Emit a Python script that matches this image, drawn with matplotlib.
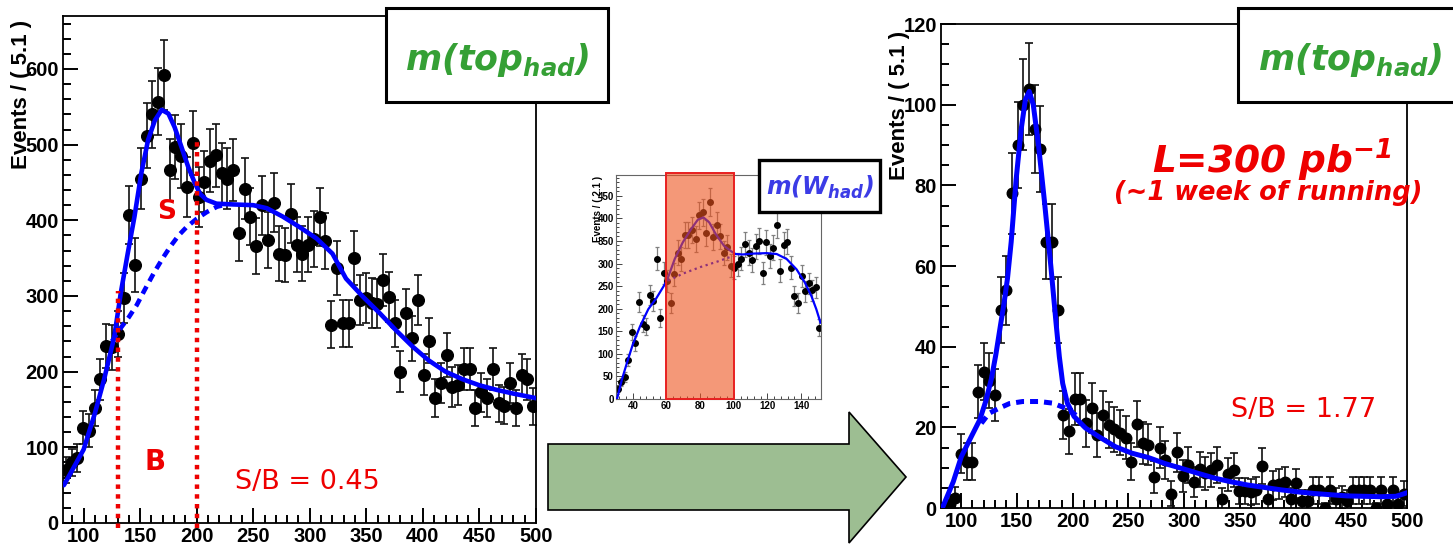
"""Top-quark mass peak before/after W-mass window cut, with the W-mass inset."""

import numpy as np
import matplotlib
matplotlib.use("Agg")
import matplotlib.pyplot as plt
from matplotlib.patches import Rectangle, Polygon
from matplotlib.ticker import MultipleLocator, AutoMinorLocator

plt.rcParams["font.family"] = "Liberation Sans"
plt.rcParams["font.weight"] = "bold"
plt.rcParams["mathtext.fontset"] = "custom"
plt.rcParams["mathtext.rm"] = "DejaVu Sans:italic:bold"
plt.rcParams["mathtext.it"] = "DejaVu Sans:italic:bold"

W, H = 1453, 548

# ------------------------------------------------------------------
# Data
# ------------------------------------------------------------------
# top mass histograms: 82 bins of 5.1 starting at 81.8
TOP_LO, TOP_BW = 81.8, 5.1
top_all = [70, 80, 86, 126, 122, 152, 190, 234, 232, 250, 297, 407, 341, 455,
           512, 540, 557, 592, 467, 497, 485, 444, 502, 431, 451, 479, 486, 462,
           455, 466, 383, 442, 405, 366, 420, 374, 423, 356, 354, 409, 368, 356,
           368, 375, 404, 373, 262, 337, 264, 264, 350, 295, 297, 291, 290, 321,
           299, 264, 200, 277, 244, 295, 196, 241, 165, 185, 222, 180, 182, 204,
           204, 152, 173, 165, 204, 158, 155, 185, 152, 196, 190, 154]
top_cut = [0, 1, 2.5, 13.5, 11.5, 11.5, 28.8, 33.8, 31.5, 28, 49, 54, 78, 90,
           100, 104, 94, 89, 66, 66, 49, 23, 19, 27, 27, 21, 24.7, 18, 23, 20.5,
           19.5, 18.7, 17.4, 11.5, 20.8, 16, 15.7, 7.7, 14.9, 11.9, 3.5, 13.8,
           7.9, 10.7, 6.5, 9.6, 8.6, 9.4, 10.7, 2.3, 8.4, 9.4, 4.2, 4.2, 3.9, 4.4,
           10.5, 2.3, 5.6, 6.0, 6.5, 2.3, 6.1, 1.8, 1.8, 4.4, 4.4, 0, 4.4, 2.3,
           2.7, 1.8, 4.4, 4.4, 4.4, 4.4, 0, 4.4, 1.0, 4.4, 1.0, 3.5]

# W mass histogram (inset): 58 bins of 2.1 starting at 30
W_LO, W_BW = 30.0, 2.1
w_counts = [22, 38, 49, 86, 148, 123, 215, 167, 160, 230, 217, 311, 180, 279,
            262, 212, 276, 324, 310, 363, 363, 375, 354, 407, 413, 367, 436, 359,
            385, 360, 323, 336, 295, 291, 298, 311, 343, 324, 308, 338, 350, 279,
            347, 317, 335, 385, 284, 342, 348, 291, 228, 212, 273, 239, 256, 241,
            247, 158]

# fitted curves (signal+background solid, background dashed)
all_fit_x = [82.6, 90, 100, 110, 118, 127, 133, 139, 145, 151, 157, 163, 169,
             175, 180.5, 186.5, 192.4, 198.4, 203, 208.7, 217.5, 232, 250, 262,
             276, 291, 306, 320, 332, 347, 362, 376, 391, 405, 420, 435, 450,
             465, 480, 500]
all_fit_y = [50, 70, 97, 145, 189, 245, 305, 356, 405, 462, 506, 532, 546, 541,
             523, 497, 471, 449, 435, 427, 422, 421, 420, 416, 405, 391, 376,
             356, 323, 299, 277, 255, 233, 215, 200, 190, 182, 176, 171, 165]
all_bkg_x = [125, 132, 140, 147, 154, 162, 170, 177, 184, 191, 200, 209, 218, 226]
all_bkg_y = [240, 256, 272, 288, 308, 330, 350, 366, 380, 391, 402, 411, 418, 421]

cut_fit_x = [83, 92.8, 100, 109, 116.5, 122, 127, 131, 135, 138.5, 141.5, 144.8,
             149.2, 153.7, 157.5, 161, 164.6, 169.4, 174.5, 180.4, 185, 188, 191,
             195.2, 201.2, 211.6, 223.4, 238.3, 253, 268, 283, 298, 312.5, 327.4,
             342, 357, 372, 387, 402, 416.5, 431, 446, 461, 476, 490, 497, 500]
cut_fit_y = [0, 6.5, 12.7, 17.7, 21.8, 26.5, 32, 38, 45, 51, 57, 66, 81.4, 93.8,
             101.2, 103.3, 100, 89.7, 76.4, 59.9, 46, 37.5, 30.9, 26, 22.7, 19.8,
             17.7, 15.2, 13.6, 12.5, 11, 9.8, 8.6, 7.4, 6.5, 5.7, 5.1, 4.5, 4.0,
             3.6, 3.3, 3.0, 2.9, 2.8, 2.9, 3.5, 3.8]
cut_bkg_x = [118, 125, 134.4, 143.3, 155, 170, 182, 194, 203]
cut_bkg_y = [21, 23.5, 24.8, 25.9, 26.4, 26.4, 26, 24.7, 23]

w_fit_x = [30.6, 33.5, 36.5, 40, 44.3, 49.2, 54.1, 59, 61, 64.9, 69.7, 74.6,
           78.6, 82, 85.4, 89.3, 94.2, 98.1, 101, 105, 111.8, 119.6, 125.5,
           131.4, 137.3, 142.2, 146.1, 149, 151.5]
w_fit_y = [0, 43, 80, 121, 161, 199, 224, 254, 270, 310, 347, 376, 397, 402,
           391, 365, 339, 328, 321, 320, 322, 323, 321, 310, 287, 258, 228, 199,
           169]
w_bkg_x = [61, 70, 80, 90, 99]
w_bkg_y = [262, 278, 292, 304, 316]

window_cuts = [130, 200]      # red dotted mass window (left plot)
w_window = (60, 100)          # shaded W mass window (inset)


def fx(px):
    return px / W


def fy(py):
    return 1 - py / H


def fig_box(x0, y0, x1, y1):
    return [x0 / W, 1 - y1 / H, (x1 - x0) / W, (y1 - y0) / H]


def style_main(ax, ymaj, yminor_div):
    for s in ax.spines.values():
        s.set_linewidth(1.3)
    ax.xaxis.set_major_locator(MultipleLocator(50))
    ax.xaxis.set_minor_locator(AutoMinorLocator(5))
    ax.yaxis.set_major_locator(MultipleLocator(ymaj))
    ax.yaxis.set_minor_locator(AutoMinorLocator(yminor_div))
    ax.tick_params(which="both", direction="in", top=False, right=False,
                   width=1.4, labelsize=14.5, pad=3)
    ax.tick_params(which="major", length=11)
    ax.tick_params(which="minor", length=6)


def add_box(x0, y0, x1, y1, lw=2.2):
    fig.add_artist(Rectangle((fx(x0), fy(y1)), (x1 - x0) / W, (y1 - y0) / H,
                             transform=fig.transFigure, facecolor="white",
                             edgecolor="black", lw=lw, zorder=5))


fig = plt.figure(figsize=(W / 100, H / 100), dpi=100)

# ------------------------------------------------------------------
# Left: before the W window cut
# ------------------------------------------------------------------
ax1 = fig.add_axes(fig_box(63, 16, 536, 523))
x_top = TOP_LO + TOP_BW * (np.arange(len(top_all)) + 0.5)
y1 = np.array(top_all, dtype=float)
ax1.errorbar(x_top, y1, yerr=1.8 * np.sqrt(y1) + 2, fmt="o", ms=8.4,
             color="black", ecolor="#111111", elinewidth=1.2, capsize=3,
             capthick=1.2, zorder=2)
ax1.plot(all_fit_x, all_fit_y, color="blue", lw=3.3, zorder=3,
         solid_capstyle="round")
ax1.plot(all_bkg_x, all_bkg_y, color="blue", lw=3.3, ls=(0, (1.8, 1.3)),
         zorder=3)
ax1.vlines(window_cuts[0], -6, 307, color="#EE0000", lw=3.2,
           ls=(0, (1.0, 1.2)), zorder=4, clip_on=False)
ax1.vlines(window_cuts[1], -6, 508, color="#EE0000", lw=3.2,
           ls=(0, (1.0, 1.2)), zorder=4, clip_on=False)
ax1.text(173, 411, "S", color="#EE0000", fontsize=19, family="DejaVu Sans",
         weight="bold", ha="center", va="center")
ax1.text(163, 80, "B", color="#EE0000", fontsize=20, family="DejaVu Sans",
         weight="bold", ha="center", va="center")
ax1.text(298, 54, "S/B = 0.45", color="#EE0000", fontsize=19.5,
         family="DejaVu Sans", weight="normal", ha="center", va="center")
ax1.set_xlim(TOP_LO, 500)
ax1.set_ylim(0, 670)
style_main(ax1, 100, 5)
fig.text(fx(22), fy(94), "Events / ( 5.1 )", rotation=90, fontsize=16,
         ha="center", va="center")

# ------------------------------------------------------------------
# Right: after the W window cut
# ------------------------------------------------------------------
ax2 = fig.add_axes(fig_box(941, 24, 1407, 508))
y2 = np.array(top_cut, dtype=float)
ax2.errorbar(x_top, y2, yerr=np.sqrt(y2) + 1.2, fmt="o", ms=7.6,
             color="black", ecolor="#111111", elinewidth=1.2, capsize=3,
             capthick=1.2, zorder=2)
ax2.plot(cut_fit_x, cut_fit_y, color="blue", lw=3.6, zorder=3,
         solid_capstyle="round")
ax2.plot(cut_bkg_x, cut_bkg_y, color="blue", lw=3.6, ls=(0, (1.6, 1.2)),
         zorder=3)
ax2.text(407.6, 24.3, "S/B = 1.77", color="#EE0000", fontsize=19.5,
         family="DejaVu Sans", weight="normal", ha="center", va="center")
ax2.set_xlim(TOP_LO, 500)
ax2.set_ylim(0, 120)
style_main(ax2, 20, 4)
fig.text(fx(900), fy(105), "Events / ( 5.1 )", rotation=90, fontsize=16,
         ha="center", va="center")

fig.text(fx(1272), fy(160), "L=300 pb$^{-1}$", color="#EE0000", fontsize=27,
         family="DejaVu Sans", weight="bold", style="italic",
         ha="center", va="center")
fig.text(fx(1268), fy(193), "(~1 week of running)", color="#EE0000",
         fontsize=18.5, family="DejaVu Sans", weight="bold", style="italic",
         ha="center", va="center")

# ------------------------------------------------------------------
# Inset: W mass with the selection window
# ------------------------------------------------------------------
ax3 = fig.add_axes(fig_box(616, 175, 821, 399))
x_w = W_LO + W_BW * (np.arange(len(w_counts)) + 0.5)
y3 = np.array(w_counts, dtype=float)
ax3.errorbar(x_w, y3, yerr=1.5 * np.sqrt(y3), fmt="o", ms=4, color="black",
             ecolor="#808080", elinewidth=0.9, capsize=1.5, capthick=0.9,
             zorder=2)
ax3.plot(w_fit_x, w_fit_y, color="blue", lw=1.6, zorder=3)
ax3.plot(w_bkg_x, w_bkg_y, color="blue", lw=1.6, ls=(0, (1.0, 1.6)), zorder=3)
ax3.add_patch(Rectangle((w_window[0], 0), w_window[1] - w_window[0], 500,
                        facecolor=(0.934, 0.327, 0.118, 0.6),
                        edgecolor="#E82020", lw=1.4, zorder=5, clip_on=False))
ax3.set_xlim(W_LO, W_LO + W_BW * len(w_counts))
ax3.set_ylim(0, 496)
for s in ax3.spines.values():
    s.set_linewidth(0.8)
    s.set_color("#666666")
ax3.xaxis.set_major_locator(MultipleLocator(20))
ax3.xaxis.set_minor_locator(AutoMinorLocator(5))
ax3.yaxis.set_major_locator(MultipleLocator(50))
ax3.yaxis.set_minor_locator(AutoMinorLocator(5))
ax3.tick_params(which="both", direction="in", top=False, right=False,
                width=0.7, labelsize=7, pad=1.5, color="#444444")
ax3.tick_params(which="major", length=4)
ax3.tick_params(which="minor", length=2)
fig.text(fx(598), fy(209), "Events / ( 2.1 )", rotation=90, fontsize=7,
         ha="center", va="center")

# ------------------------------------------------------------------
# Title boxes and arrow
# ------------------------------------------------------------------
add_box(386, 8, 608, 102)
fig.text(fx(497), fy(60), "m(top$_{had}$)", color="#35A035", fontsize=25,
         family="DejaVu Sans", weight="bold", style="italic",
         ha="center", va="center", zorder=6)
add_box(1238, 8, 1460, 102)
fig.text(fx(1350), fy(60), "m(top$_{had}$)", color="#35A035", fontsize=25,
         family="DejaVu Sans", weight="bold", style="italic",
         ha="center", va="center", zorder=6)
add_box(759, 160, 880, 212, lw=2.4)
fig.text(fx(820), fy(187), "m(W$_{had}$)", color="#3C3CE6", fontsize=17,
         family="DejaVu Sans", weight="bold", style="italic",
         ha="center", va="center", zorder=6)

arrow_px = [(548, 444), (849, 444), (849, 412), (906, 477), (849, 543),
            (849, 510), (548, 510)]
fig.add_artist(Polygon([(fx(px), fy(py)) for px, py in arrow_px],
                       closed=True, transform=fig.transFigure,
                       facecolor="#9DBE92", edgecolor="black", lw=1.2,
                       zorder=4))

fig.savefig("out.png", dpi=100)
